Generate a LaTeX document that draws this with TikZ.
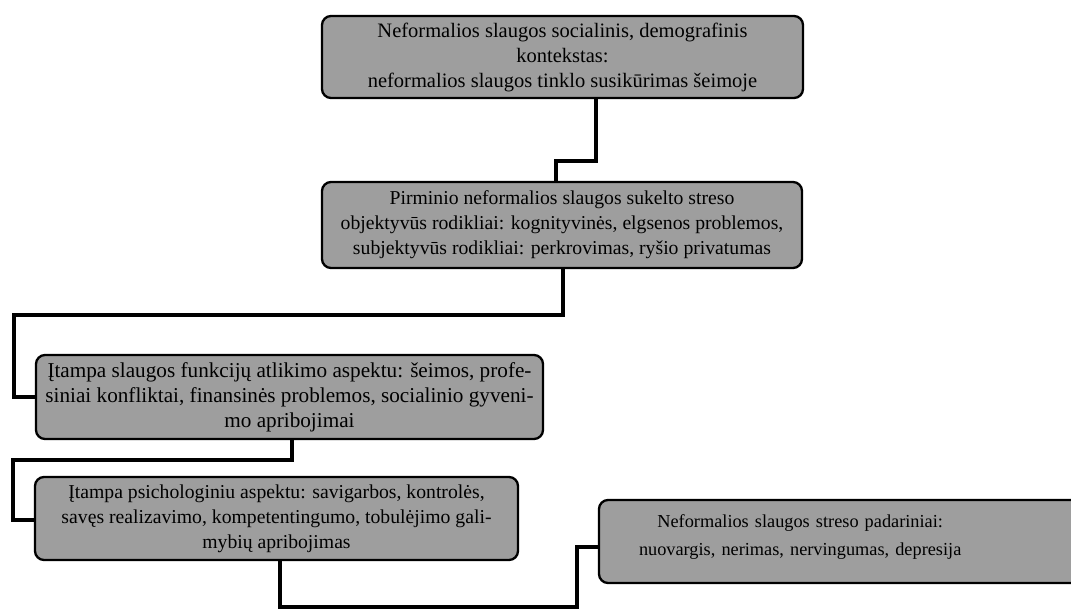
\documentclass[tikz,border=0pt]{standalone}
\usepackage{fontspec}
\setmainfont{Liberation Serif}
\begin{document}
\begin{tikzpicture}[x=1pt,y=-1pt,
  box/.style={draw=black, line width=2.3pt, rounded corners=9pt, fill=black!38,
    inner sep=0pt, align=center},
  conn/.style={draw=black, line width=4pt, line join=miter}]
\useasboundingbox (0,0) rectangle (1071,610);
\node[box, minimum width=481pt, minimum height=82pt, font=\fontsize{20.5}{25}\selectfont] (b1) at (562.5,57)
  {Neformalios slaugos socialinis, demografinis\\kontekstas:\\neformalios slaugos tinklo susikūrimas šeimoje};
\node[box, minimum width=480pt, minimum height=86pt, font=\fontsize{19.7}{25}\selectfont] (b2) at (562,225)
  {Pirminio neformalios slaugos sukelto streso\\objektyvūs rodikliai: kognityvinės, elgsenos problemos,\\subjektyvūs rodikliai: perkrovimas, ryšio privatumas};
\node[box, minimum width=507pt, minimum height=84pt, font=\fontsize{21.2}{25}\selectfont] (b3) at (289.5,397)
  {Įtampa slaugos funkcijų atlikimo aspektu: šeimos, profe-\\siniai konfliktai, finansinės problemos, socialinio gyveni-\\mo apribojimai};
\node[box, minimum width=483pt, minimum height=83pt, font=\fontsize{19.7}{25}\selectfont] (b4) at (276.5,518.5)
  {Įtampa psichologiniu aspektu: savigarbos, kontrolės,\\savęs realizavimo, kompetentingumo, tobulėjimo gali-\\mybių apribojimas};
\node[box, minimum width=486pt, minimum height=83pt, text width=486pt, align=left, font=\fontsize{18.3}{28}\selectfont] (b5) at (842,541.5)
  {\hspace*{40pt}\begin{tabular}{@{}c@{}}Neformalios slaugos streso padariniai:\\nuovargis, nerimas, nervingumas, depresija\\[12pt]\end{tabular}};
\draw[conn] ([xshift=33.5pt]b1.south) -- ++(0,62) -| ([xshift=-6.5pt]b2.north);
\draw[conn] ([xshift=1pt]b2.south) -- ++(0,46) -- ++(-549,0) |- (b3.west);
\draw[conn] ([xshift=2.5pt]b3.south) -- ++(0,20) -- ++(-279,0) |- ([yshift=-1.5pt]b4.west);
\draw[conn] ([xshift=3.5pt]b4.south) -- ++(0,46) -- ++(297,0) |- ([yshift=-5.5pt]b5.west);
\end{tikzpicture}
\end{document}
